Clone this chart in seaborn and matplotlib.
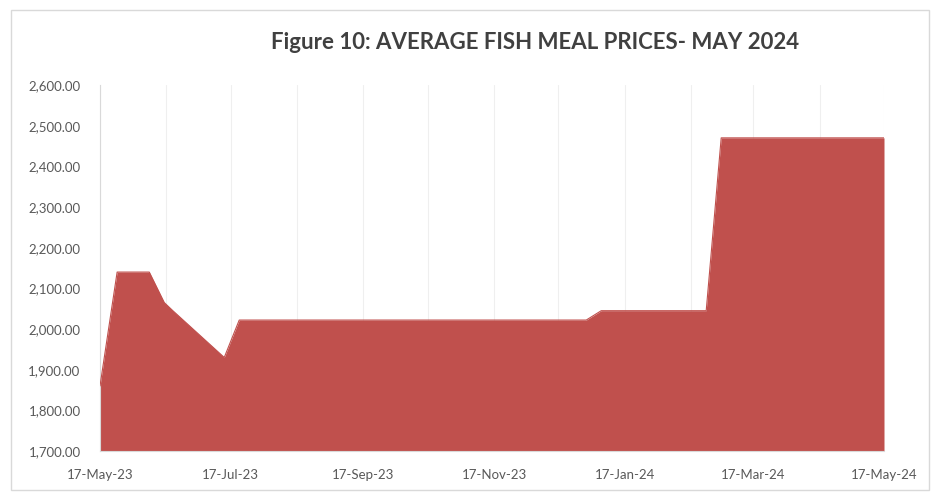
import pandas as pd
import numpy as np
import matplotlib
matplotlib.use("Agg")
import matplotlib.pyplot as plt
import matplotlib.dates as mdates
import matplotlib.ticker as mticker
from matplotlib.patches import Rectangle
import seaborn as sns

sns.set_style("white")
plt.rcParams['font.family'] = ['Lato', 'DejaVu Sans']

# data
dates = ["2023-05-17", "2023-05-25", "2023-06-09", "2023-06-16", "2023-06-20",
         "2023-07-14", "2023-07-21", "2023-12-30", "2024-01-06", "2024-02-24",
         "2024-03-02", "2024-05-17"]
prices = [1860, 2140, 2140, 2065, 2045, 1930, 2022, 2022, 2045, 2045, 2470, 2470]

df = pd.DataFrame({"date": pd.to_datetime(dates), "price": prices})

fill_color = "#C0504D"

fig = plt.figure(figsize=(9.35, 4.94), dpi=100)
ax = fig.add_axes([100/935, 1 - 451/494, 784/935, 366/494])

ax.fill_between(df["date"], df["price"], 1700, color=fill_color, lw=0, zorder=2)
sns.lineplot(data=df, x="date", y="price", color=fill_color, lw=0.8, ax=ax, zorder=3)

ax.set_xlim(pd.Timestamp("2023-05-17"), pd.Timestamp("2024-05-17"))
ax.set_ylim(1700, 2600)
ax.yaxis.set_major_locator(mticker.MultipleLocator(100))
ax.yaxis.set_major_formatter(mticker.FuncFormatter(lambda v, p: f"{v:,.2f}"))

ax.xaxis.set_major_locator(mdates.MonthLocator(bymonth=[1, 3, 5, 7, 9, 11], bymonthday=17))
ax.xaxis.set_minor_locator(mdates.MonthLocator(bymonthday=17))
ax.xaxis.set_major_formatter(mdates.DateFormatter("%d-%b-%y"))
ax.grid(True, axis="x", which="both", color="#efefef", lw=0.8, zorder=0)
ax.grid(False, axis="y")

ax.set_xlabel("")
ax.set_ylabel("")
ax.tick_params(axis="both", labelsize=9.5, colors="#595959", length=0)
ax.tick_params(axis="y", pad=14)
ax.tick_params(axis="x", pad=13)
for s in ["top", "right"]:
    ax.spines[s].set_visible(False)
for s in ["left", "bottom"]:
    ax.spines[s].set_color("#d9d9d9")

fig.text(0.572, 0.913, "Figure 10: AVERAGE FISH MEAL PRICES- MAY 2024",
         ha="center", va="center", fontsize=16, fontweight="bold", color="#404040")

# chart frame
fig.patches.append(Rectangle((11/935, 4/494), 918/935, 480/494, transform=fig.transFigure,
                             fill=False, edgecolor="#d9d9d9", lw=1))

fig.savefig("out.png", dpi=100)
plt.close()
